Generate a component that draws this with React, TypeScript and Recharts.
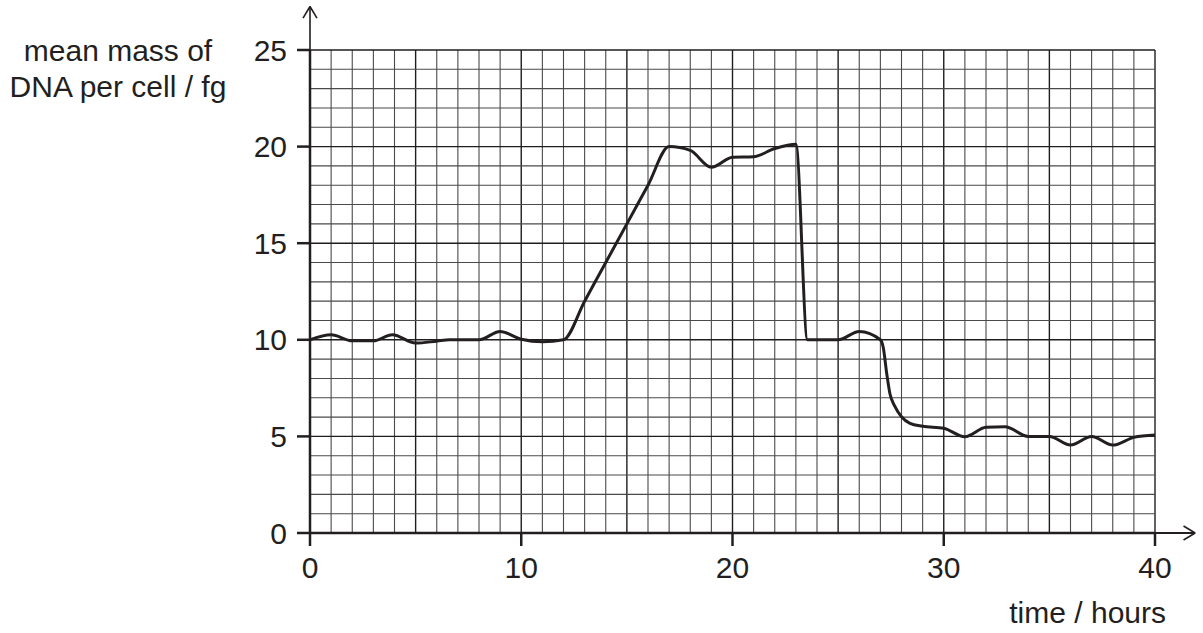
import React from 'react';
import { LineChart, Line, XAxis, YAxis, ReferenceLine } from 'recharts';

// time (hours) and mean mass of DNA per cell (fg)
const hours = [0, 1, 2, 3, 3.9, 5, 6, 6.6, 8, 9, 10, 11, 12, 13, 14, 15, 16, 17, 18, 19, 20, 21, 22, 23, 23.55, 24, 25, 26, 27, 27.13, 27.3, 27.45, 27.68, 28, 28.4, 29, 30, 31, 32, 32.9, 34, 35, 36, 37, 38, 39, 40];
const dnaMass = [10.0, 10.26, 9.95, 9.95, 10.26, 9.83, 9.93, 10.0, 10.0, 10.43, 10.03, 9.9, 10.0, 12.0, 14.0, 16.0, 18.0, 20.0, 19.8, 18.93, 19.45, 19.48, 19.9, 20.12, 10.0, 10.0, 10.0, 10.43, 10.0, 9.64, 8.26, 7.22, 6.57, 6.02, 5.68, 5.53, 5.42, 4.98, 5.47, 5.5, 5.0, 5.0, 4.55, 5.0, 4.55, 4.95, 5.07];

const xTicks = [0, 10, 20, 30, 40];
const yTicks = [0, 5, 10, 15, 20, 25];
const gridX = [1, 2, 3, 4, 5, 6, 7, 8, 9, 10, 11, 12, 13, 14, 15, 16, 17, 18, 19, 20, 21, 22, 23, 24, 25, 26, 27, 28, 29, 30, 31, 32, 33, 34, 35, 36, 37, 38, 39, 40];
const gridY = [1, 2, 3, 4, 5, 6, 7, 8, 9, 10, 11, 12, 13, 14, 15, 16, 17, 18, 19, 20, 21, 22, 23, 24, 25];

const yLabelLines = ['mean mass of', 'DNA per cell / fg'];
const xLabel = 'time / hours';

const data = hours.map((t, i) => ({ t, m: dnaMass[i] }));

const INK = '#231f20';
const FONT = '"Liberation Sans", Arial, Helvetica, sans-serif';
const FS = 30;

const YLabel = (props: any) => {
  const vb = props.viewBox || { x: 0, y: 50 };
  return (
    <text x={vb.x + 118} y={vb.y + 11} textAnchor="middle" fontFamily={FONT} fontSize={FS} fill={INK}>
      <tspan x={vb.x + 118} dy={0}>{yLabelLines[0]}</tspan>
      <tspan x={vb.x + 118} dy={36}>{yLabelLines[1]}</tspan>
    </text>
  );
};

const XLabel = (props: any) => {
  const vb = props.viewBox || { x: 310, y: 533, width: 845 };
  return (
    <text x={vb.x + vb.width + 11} y={vb.y + 90} textAnchor="end" fontFamily={FONT} fontSize={FS} fill={INK}>
      {xLabel}
    </text>
  );
};

const isMajor = (v: number) => v % 5 === 0;

export default function App() {
  return (
    <div style={{ position: 'absolute', left: 0, top: 0, width: 1203, height: 633, background: '#fff' }}>
      <LineChart width={1203} height={633} data={data} margin={{ top: 50, right: 48, bottom: 0, left: 0 }}>
        {gridX.map((v) => (
          <ReferenceLine
            key={'gx' + v}
            x={v}
            ifOverflow="visible"
            stroke={isMajor(v) ? '#1e1e1e' : '#4a4a4a'}
            strokeWidth={isMajor(v) ? 1.4 : 1.1}
          />
        ))}
        {gridY.map((v) => (
          <ReferenceLine
            key={'gy' + v}
            y={v}
            ifOverflow="visible"
            stroke={isMajor(v) ? '#1e1e1e' : '#4a4a4a'}
            strokeWidth={isMajor(v) ? 1.4 : 1.1}
          />
        ))}
        <XAxis
          dataKey="t"
          type="number"
          domain={[0, 40]}
          ticks={xTicks}
          allowDataOverflow
          height={100}
          tickSize={13}
          tickMargin={11}
          axisLine={{ stroke: INK, strokeWidth: 2.5 }}
          tickLine={{ stroke: INK, strokeWidth: 2.5 }}
          tick={{ fill: INK, fontSize: FS, fontFamily: FONT }}
          label={{ content: XLabel }}
        />
        <YAxis
          type="number"
          domain={[0, 25]}
          ticks={yTicks}
          allowDataOverflow
          width={310}
          tickSize={13}
          tickMargin={10}
          axisLine={{ stroke: INK, strokeWidth: 2.5 }}
          tickLine={{ stroke: INK, strokeWidth: 2.5 }}
          tick={{ fill: INK, fontSize: FS, fontFamily: FONT }}
          label={{ content: YLabel }}
        />
        <ReferenceLine ifOverflow="visible" segment={[{ x: 0, y: 25 }, { x: 0, y: 27.25 }]} stroke={INK} strokeWidth={1.6} />
        <ReferenceLine ifOverflow="visible" segment={[{ x: -0.33, y: 26.65 }, { x: 0, y: 27.25 }]} stroke={INK} strokeWidth={1.6} />
        <ReferenceLine ifOverflow="visible" segment={[{ x: 0.33, y: 26.65 }, { x: 0, y: 27.25 }]} stroke={INK} strokeWidth={1.6} />
        <ReferenceLine ifOverflow="visible" segment={[{ x: 40, y: 0 }, { x: 41.9, y: 0 }]} stroke={INK} strokeWidth={2} />
        <ReferenceLine ifOverflow="visible" segment={[{ x: 41.35, y: 0.36 }, { x: 41.9, y: 0 }]} stroke={INK} strokeWidth={1.6} />
        <ReferenceLine ifOverflow="visible" segment={[{ x: 41.35, y: -0.36 }, { x: 41.9, y: 0 }]} stroke={INK} strokeWidth={1.6} />
        <Line
          type="monotone"
          dataKey="m"
          stroke={INK}
          strokeWidth={3}
          dot={false}
          activeDot={false}
          isAnimationActive={false}
        />
      </LineChart>
    </div>
  );
}
